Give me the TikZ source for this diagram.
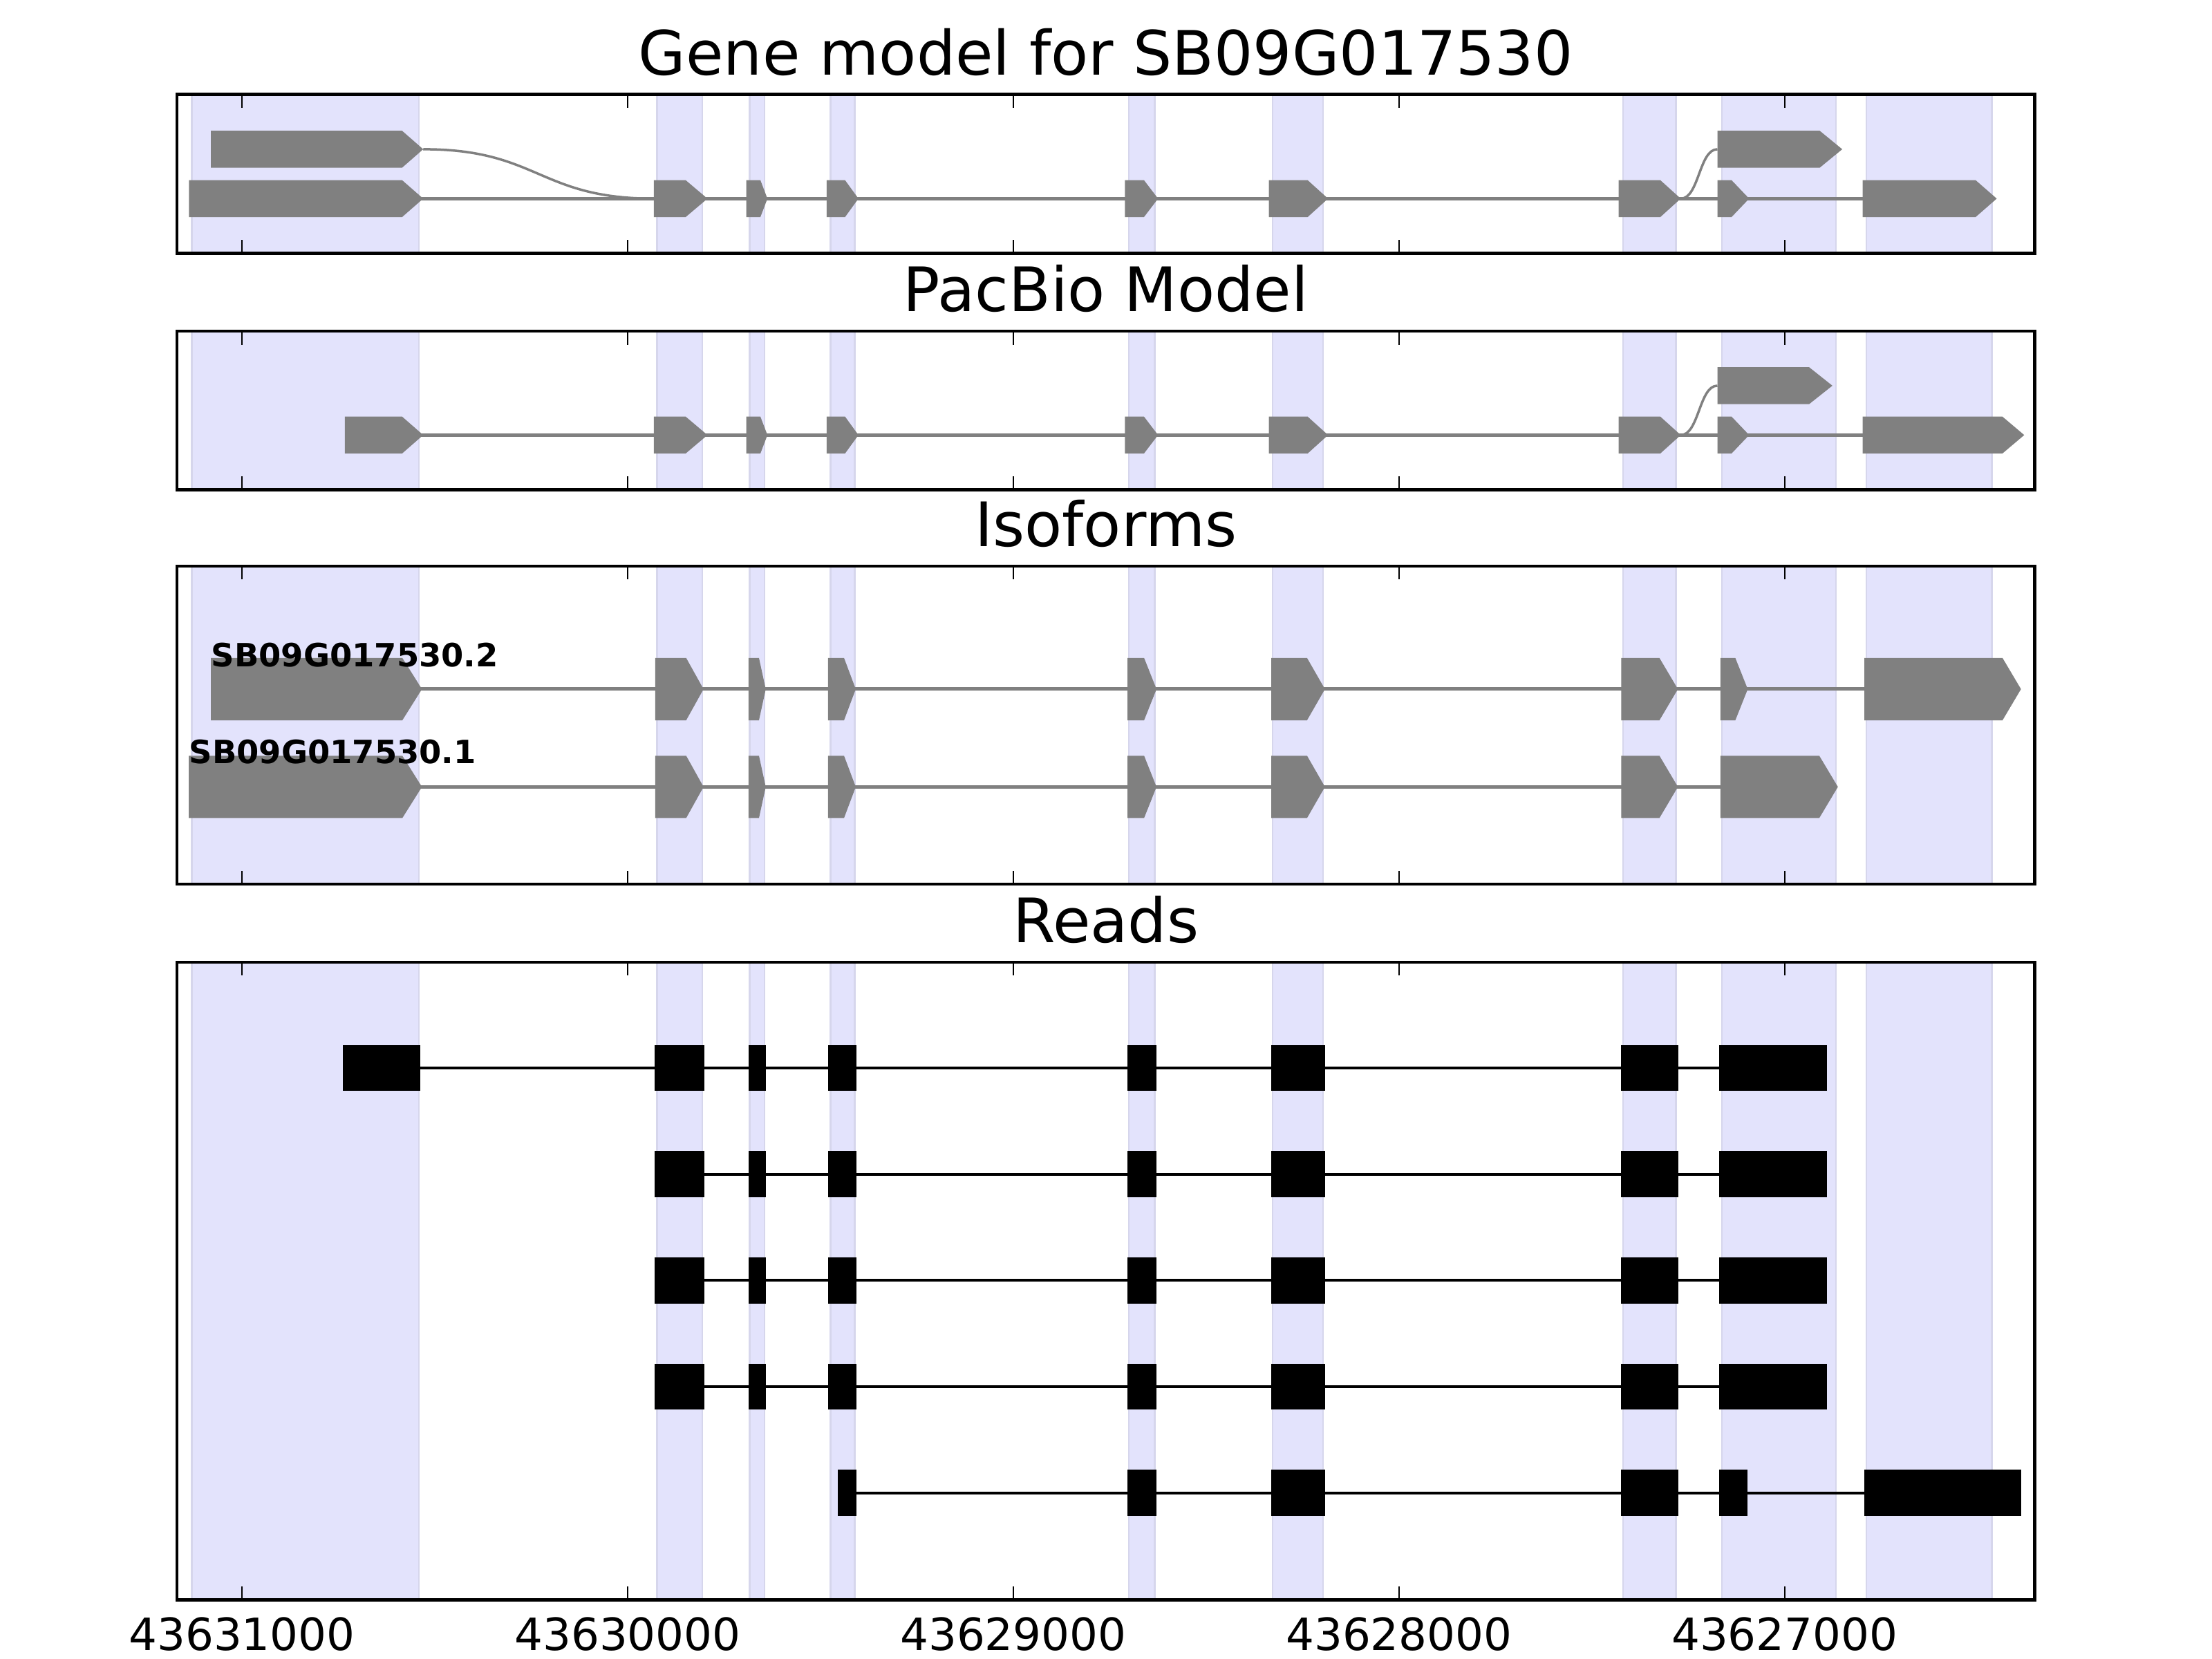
\documentclass[tikz,border=0pt]{standalone}
\usepackage{fontspec}
\setmainfont{DejaVu Sans}
\usepackage{tikz}
\usetikzlibrary{calc}
\definecolor{spanblue}{RGB}{227,227,252}
\definecolor{spanedge}{RGB}{214,214,236}
\definecolor{exongray}{RGB}{128,128,128}
\def\exonarrow[#1](#2:#3:#4)(#5:#6){\fill[#1] (#2,#5-#6) -- (#3,#5-#6) -- (#4,#5) -- (#3,#5+#6) -- (#2,#5+#6) -- cycle;}
\def\readblock(#1:#2)(#3){\fill[black] (#1,#3-16.3) rectangle (#2,#3+16.3);}
\def\spanrow(#1:#2){\foreach \a/\b in {136/297,465.8/497.8,531.4/541.9,588.7/605.8,800.2/818.5,902/937.8,1150.4/1188.1,1220.5/1301.4,1322.9/1412}{\draw[spanedge, fill=spanblue, line width=0.25mm] (\a,#1) rectangle (\b,#2);}}
\def\axesbox(#1:#2){\foreach \t in {171.5,444.9,718.3,991.7,1265.1}{\draw[line width=0.25mm] (\t,#1) -- (\t,#1+9.5); \draw[line width=0.25mm] (\t,#2) -- (\t,#2-9.5);}
	\draw[line width=0.45mm] (125.5,#1) rectangle (1442.3,#2);}

\begin{document}
\begin{tikzpicture}[x=0.2041mm, y=-0.2041mm,
		title/.style={anchor=base, inner sep=0, font=\fontsize{25.2}{30}\selectfont},
		ticklabel/.style={anchor=base, inner sep=0, font=\fontsize{18.3}{22}\selectfont},
		isolabel/.style={anchor=base west, inner sep=0, font=\fontsize{13.2}{15}\selectfont\bfseries}]
			%%%%% START %%%%%
			\useasboundingbox (0,0) rectangle (1568,1176);
			
			% gene model
			\node[title] (genetitle) at (783.9,53) {Gene model for SB09G017530};
			\spanrow(67:179.5);
			\draw[exongray, line width=0.5mm] (285,140.8) -- (1320.4,140.8);
			\draw[exongray, line width=0.35mm] (300,105.8) .. controls (381.8,105.8) and (381.8,140.8) .. (463.5,140.8);
			\draw[exongray, line width=0.35mm] (1191.4,140.8) .. controls (1204.4,140.8) and (1204.4,105.8) .. (1217.4,105.8);
			\exonarrow[exongray](149.5:285:300)(105.8:13.1);
			\exonarrow[exongray](1217.4:1289.9:1305.9)(105.8:13.1);
			\exonarrow[exongray](134:285:300)(140.8:13.1);
			\exonarrow[exongray](463.5:486:501.5)(140.8:13.1);
			\exonarrow[exongray](529:539:544)(140.8:13.1);
			\exonarrow[exongray](586:599:608.5)(140.8:13.1);
			\exonarrow[exongray](797.4:810.9:820.9)(140.8:13.1);
			\exonarrow[exongray](899.4:926.9:941.4)(140.8:13.1);
			\exonarrow[exongray](1147.4:1176.9:1191.4)(140.8:13.1);
			\exonarrow[exongray](1217.4:1227.4:1239.9)(140.8:13.1);
			\exonarrow[exongray](1320.4:1400.4:1415.4)(140.8:13.1);
			\axesbox(67:179.5);
			
			% pacbio model
			\node[title] (pacbiotitle) at (783.9,220.8) {PacBio Model};
			\spanrow(234.8:347.2);
			\draw[exongray, line width=0.5mm] (285,308.4) -- (1320.4,308.4);
			\draw[exongray, line width=0.35mm] (1191.4,308.4) .. controls (1204.4,308.4) and (1204.4,273.4) .. (1217.4,273.4);
			\exonarrow[exongray](1217.4:1282.4:1298.9)(273.4:13.1);
			\exonarrow[exongray](244.5:285:300)(308.4:13.1);
			\exonarrow[exongray](463.5:486:501.5)(308.4:13.1);
			\exonarrow[exongray](529:539:544)(308.4:13.1);
			\exonarrow[exongray](586:599:608.5)(308.4:13.1);
			\exonarrow[exongray](797.4:810.9:820.9)(308.4:13.1);
			\exonarrow[exongray](899.4:926.9:941.4)(308.4:13.1);
			\exonarrow[exongray](1147.4:1176.9:1191.4)(308.4:13.1);
			\exonarrow[exongray](1217.4:1227.4:1239.9)(308.4:13.1);
			\exonarrow[exongray](1320.4:1419.4:1434.9)(308.4:13.1);
			\axesbox(234.8:347.2);
			
			% isoforms
			\node[title] (isotitle) at (783.9,387.3) {Isoforms};
			\spanrow(401.3:626.8);
			\draw[exongray, line width=0.5mm] (285,488.5) -- (1321.6,488.5);
			\draw[exongray, line width=0.5mm] (285,557.8) -- (1219.6,557.8);
			\exonarrow[exongray](149.5:285.2:299.1)(488.5:22.1);
			\exonarrow[exongray](464.5:486.4:498.7)(488.5:22.1);
			\exonarrow[exongray](530.6:538:542.8)(488.5:22.1);
			\exonarrow[exongray](587:598.3:606.6)(488.5:22.1);
			\exonarrow[exongray](799.2:811:819.8)(488.5:22.1);
			\exonarrow[exongray](901.2:926.5:939.2)(488.5:22.1);
			\exonarrow[exongray](1149.2:1176.3:1189.4)(488.5:22.1);
			\exonarrow[exongray](1219.6:1230.1:1238.9)(488.5:22.1);
			\exonarrow[exongray](1321.6:1419.5:1432.6)(488.5:22.1);
			\exonarrow[exongray](133.8:285.2:299.1)(557.8:22.1);
			\exonarrow[exongray](464.5:486.4:498.7)(557.8:22.1);
			\exonarrow[exongray](530.6:538:542.8)(557.8:22.1);
			\exonarrow[exongray](587:598.3:606.6)(557.8:22.1);
			\exonarrow[exongray](799.2:811:819.8)(557.8:22.1);
			\exonarrow[exongray](901.2:926.5:939.2)(557.8:22.1);
			\exonarrow[exongray](1149.2:1176.3:1189.4)(557.8:22.1);
			\exonarrow[exongray](1219.6:1289.6:1302.8)(557.8:22.1);
			\node[isolabel] (isotwo) at (149.5,472.5) {SB09G017530.2};
			\node[isolabel] (isoone) at (133.8,541.4) {SB09G017530.1};
			\axesbox(401.3:626.8);
			
			% reads
			\node[title] (readstitle) at (783.9,668) {Reads};
			\spanrow(682:1134);
			\draw[line width=0.4mm] (243.2,757) -- (1295.3,757);
			\foreach \r in {832.3,907.6,982.9}{
				\draw[line width=0.4mm] (464.1,\r) -- (1295.3,\r);
				\readblock(464.1:499.5)(\r);
			}
			\draw[line width=0.4mm] (593.9,1058.2) -- (1321.6,1058.2);
			\readblock(243.2:297.8)(757);
			\readblock(464.1:499.5)(757);
			\foreach \r in {757,832.3,907.6,982.9}{
				\readblock(530.5:542.8)(\r);
				\readblock(587:607.1)(\r);
				\readblock(1218.8:1295.3)(\r);
			}
			\foreach \r in {757,832.3,907.6,982.9,1058.2}{
				\readblock(799.2:819.8)(\r);
				\readblock(901.2:939.2)(\r);
				\readblock(1148.8:1189.6)(\r);
			}
			\readblock(593.9:607.1)(1058.2);
			\readblock(1218.8:1238.5)(1058.2);
			\readblock(1321.6:1432.6)(1058.2);
			\axesbox(682:1134);
			
			\node[ticklabel] (tickA) at (171.5,1169.7) {43631000};
			\node[ticklabel] (tickB) at (444.9,1169.7) {43630000};
			\node[ticklabel] (tickC) at (718.3,1169.7) {43629000};
			\node[ticklabel] (tickD) at (991.7,1169.7) {43628000};
			\node[ticklabel] (tickE) at (1265.1,1169.7) {43627000};
			%%%%% END %%%%%
\end{tikzpicture}
\end{document}
